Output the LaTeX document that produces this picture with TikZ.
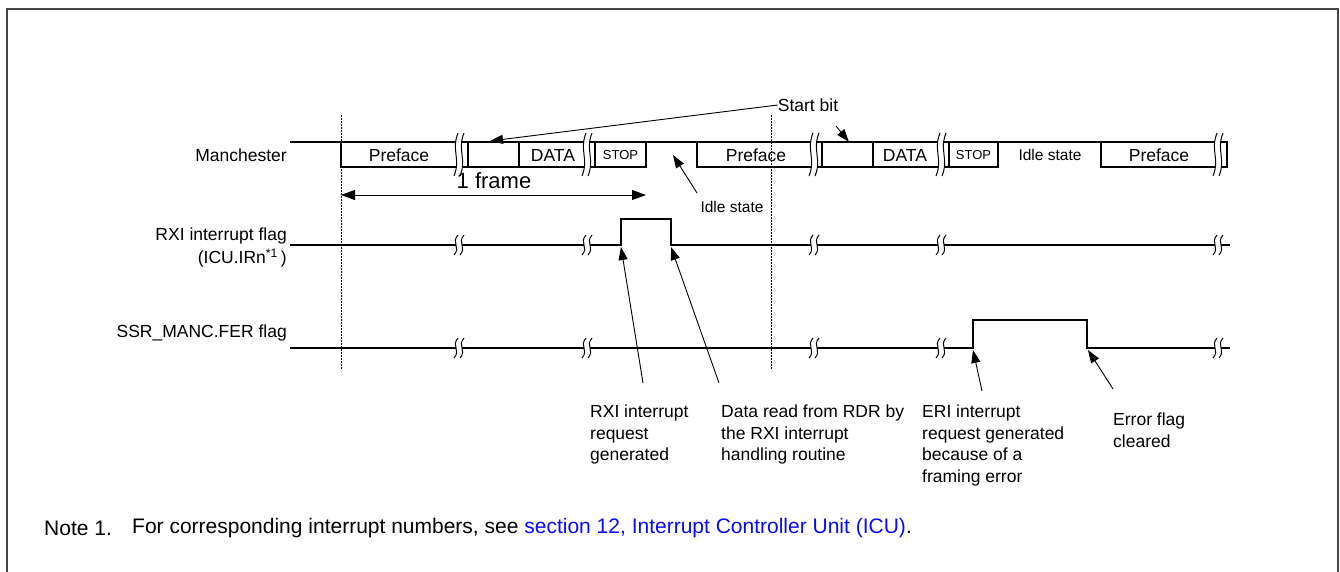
\documentclass[tikz,border=0pt]{standalone}
\usepackage{fontspec}
\setmainfont{Liberation Sans}
\usetikzlibrary{arrows.meta}
\definecolor{framegray}{RGB}{70,70,70}
\definecolor{linkblue}{RGB}{10,10,250}
\newcommand\brkmark[3]{%
  \pgfmathsetmacro\bA{#2+0.4*(#3-#2)}%
  \pgfmathsetmacro\bB{#3-0.4*(#3-#2)}%
  \fill[white] (#1+2,#2) .. controls (#1-5,\bA) and (#1+5,\bB) .. (#1-2,#3) -- (#1+4,#3) .. controls (#1+11,\bB) and (#1+1,\bA) .. (#1+8,#2) -- cycle;
  \draw[brk] (#1+2,#2) .. controls (#1-5,\bA) and (#1+5,\bB) .. (#1-2,#3);
  \draw[brk] (#1+8,#2) .. controls (#1+1,\bA) and (#1+11,\bB) .. (#1+4,#3);
}
\tikzset{
  wave/.style={line width=1.4pt, line join=miter},
  brk/.style={line width=1pt},
  lbl/.style={font=\fontsize{17.5}{21.5}\selectfont, inner sep=0pt},
  smalltxt/.style={font=\fontsize{13}{15}\selectfont, inner sep=0pt},
  idletxt/.style={font=\fontsize{15.5}{18}\selectfont, inner sep=0pt},
  bigtxt/.style={font=\fontsize{22}{26}\selectfont, inner sep=0pt},
  notetxt/.style={font=\fontsize{21}{25}\selectfont, inner sep=0pt},
  arr/.style={line width=0.9pt, -{Triangle[length=13pt,width=9pt]}},
  vdot/.style={line width=1pt, dash pattern=on 1.5pt off 1.5pt},
}
\begin{document}
\begin{tikzpicture}[x=1pt,y=-1pt]
\useasboundingbox (0,0) rectangle (1340,571);
% frame
\draw[line width=2pt, framegray] (7,590) -- (7,9) -- (1338,9) -- (1338,590);

% dotted guides
\draw[vdot] (341,115) -- (341,370);
\draw[vdot] (771,115) -- (771,370);

% ---------- Manchester row ----------
\node[lbl, anchor=east] (manch) at (287,155) {Manchester};
\draw[wave] (290,142) -- (341,142);
\draw[wave] (341,142) rectangle (646,167);
\draw[wave] (468,142) -- (468,167);
\draw[wave] (519,142) -- (519,167);
\draw[wave] (595,142) -- (595,167);
\draw[wave] (646,142) -- (697,142);
\draw[wave] (697,142) rectangle (998,167);
\draw[wave] (822,142) -- (822,167);
\draw[wave] (873,142) -- (873,167);
\draw[wave] (949,142) -- (949,167);
\draw[wave] (998,142) -- (1101,142);
\draw[wave] (1101,142) rectangle (1227,167);
\brkmark{456}{133}{176}
\brkmark{584}{133}{176}
\brkmark{811}{133}{176}
\brkmark{938}{133}{176}
\brkmark{1215}{133}{176}

\node[lbl] (pre1) at (399,155) {Preface};
\node[lbl] (data1) at (553,155) {DATA};
\node[smalltxt] (stop1) at (620.5,155) {STOP};
\node[lbl] (pre2) at (756,155) {Preface};
\node[lbl] (data2) at (905,155) {DATA};
\node[smalltxt] (stop2) at (973.5,155) {STOP};
\node[idletxt] (idle2) at (1050,155) {Idle state};
\node[lbl] (pre3) at (1159,155) {Preface};

% start bit
\node[lbl] (sbit) at (808,105) {Start bit};
\coordinate (sb1tip) at (490,141);
\coordinate (sb2tail) at (836,126);
\coordinate (sb2tip) at (849,142);
\draw[arr] (sbit.west) -- (sb1tip);
\draw[arr] (sb2tail) -- (sb2tip);

% 1 frame
\coordinate (frL) at (341,195);
\coordinate (frR) at (646,195);
\draw[line width=0.9pt, {Triangle[length=14pt,width=10pt]}-{Triangle[length=14pt,width=10pt]}] (frL) -- (frR);
\node[bigtxt] (frame) at (494,181) {1 frame};

% idle state 1
\node[idletxt] (idle1) at (732,207) {Idle state};
\coordinate (idtail) at (697,193);
\coordinate (idtip) at (673,155);
\draw[arr] (idtail) -- (idtip);

% ---------- RXI row ----------
\node[lbl, anchor=east] (rxi1) at (287,236) {RXI interrupt flag};
\node[lbl, anchor=east] (rxi2) at (287,258) {(ICU.IRn\textsuperscript{*1}\,)};
\draw[wave] (290,245) -- (621,245) -- (621,219) -- (671,219) -- (671,245) -- (1230,245);
\brkmark{456}{235}{255}
\brkmark{584}{235}{255}
\brkmark{811}{235}{255}
\brkmark{938}{235}{255}
\brkmark{1215}{235}{255}

% ---------- SSR row ----------
\node[lbl, anchor=east] (ssr) at (287,333) {SSR\_MANC.FER flag};
\draw[wave] (290,348) -- (973,348) -- (973,320) -- (1087,320) -- (1087,348) -- (1230,348);
\brkmark{456}{338}{358}
\brkmark{584}{338}{358}
\brkmark{811}{338}{358}
\brkmark{938}{338}{358}
\brkmark{1215}{338}{358}

% ---------- annotations ----------
\node[lbl, anchor=north west, align=left] (t1) at (590,405) {RXI interrupt\\request\\generated};
\node[lbl, anchor=north west, align=left] (t2) at (721,405) {Data read from RDR by\\the RXI interrupt\\handling routine};
\node[lbl, anchor=north west, align=left] (t3) at (922,405) {ERI interrupt\\request generated\\because of a\\framing error};
\node[lbl, anchor=north west, align=left] (t4) at (1113,413) {Error flag\\cleared};

\coordinate (a1tail) at (643,383);
\coordinate (a1tip) at (621,247);
\coordinate (a2tail) at (719,383);
\coordinate (a2tip) at (671,247);
\coordinate (a3tail) at (982,391);
\coordinate (a3tip) at (973,350);
\coordinate (a4tail) at (1113,389);
\coordinate (a4tip) at (1088,350);
\draw[arr] (a1tail) -- (a1tip);
\draw[arr] (a2tail) -- (a2tip);
\draw[arr] (a3tail) -- (a3tip);
\draw[arr] (a4tail) -- (a4tip);

% ---------- note ----------
\node[notetxt, anchor=west] (note1) at (44,528) {Note 1.};
\node[notetxt, anchor=west] (note2) at (132,528) {For corresponding interrupt numbers, see \textcolor{linkblue}{section 12, Interrupt Controller Unit (ICU)}.};
\end{tikzpicture}
\end{document}
